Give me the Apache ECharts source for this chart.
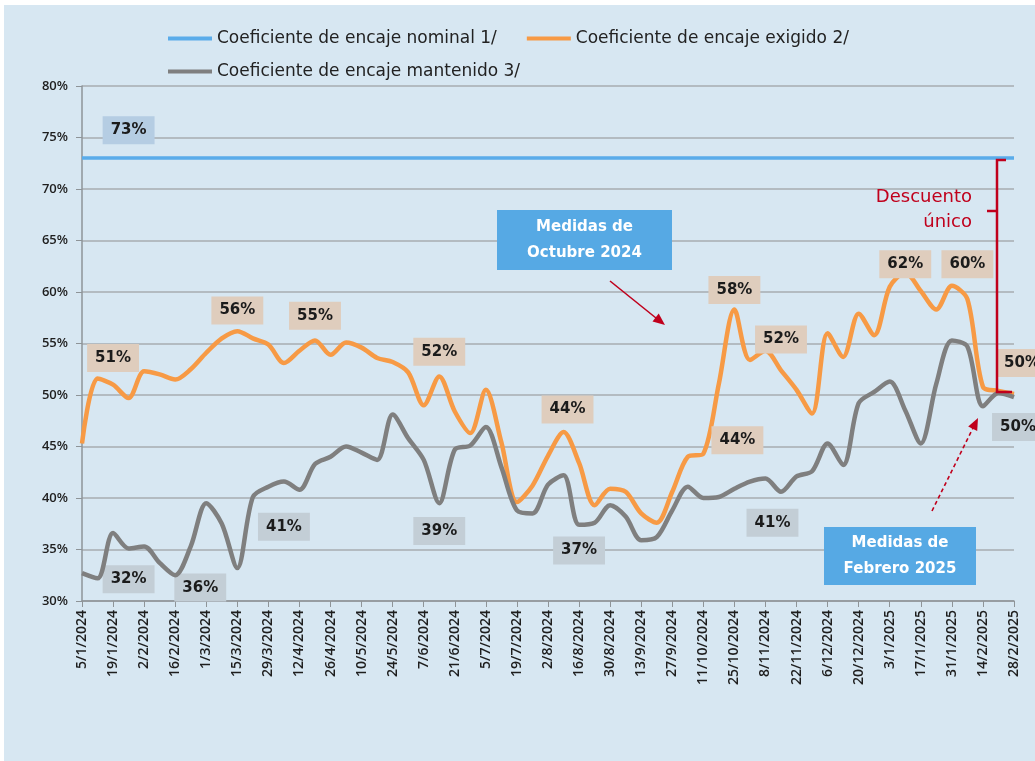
<!DOCTYPE html>
<html>
<head>
<meta charset="utf-8">
<script src="https://cdn.jsdelivr.net/npm/echarts@6/dist/echarts.min.js"></script>
<style>
  html, body { margin: 0; padding: 0; background: #ffffff; }
  #chart { width: 1035px; height: 761px; }
</style>
</head>
<body>
<div id="chart"></div>
<script>
// semanas (viernes) 5/1/2024 - 28/2/2025
var fechas = [
  '5/1/2024','12/1/2024','19/1/2024','26/1/2024','2/2/2024','9/2/2024','16/2/2024','23/2/2024',
  '1/3/2024','8/3/2024','15/3/2024','22/3/2024','29/3/2024','5/4/2024','12/4/2024','19/4/2024',
  '26/4/2024','3/5/2024','10/5/2024','17/5/2024','24/5/2024','31/5/2024','7/6/2024','14/6/2024',
  '21/6/2024','28/6/2024','5/7/2024','12/7/2024','19/7/2024','26/7/2024','2/8/2024','9/8/2024',
  '16/8/2024','23/8/2024','30/8/2024','6/9/2024','13/9/2024','20/9/2024','27/9/2024','4/10/2024',
  '11/10/2024','18/10/2024','25/10/2024','1/11/2024','8/11/2024','15/11/2024','22/11/2024','29/11/2024',
  '6/12/2024','13/12/2024','20/12/2024','27/12/2024','3/1/2025','10/1/2025','17/1/2025','24/1/2025',
  '31/1/2025','7/2/2025','14/2/2025','21/2/2025','28/2/2025'
];

var nominal = [
  73,73,73,73,73,73,73,73,73,73,73,73,73,73,73,73,73,73,73,73,
  73,73,73,73,73,73,73,73,73,73,73,73,73,73,73,73,73,73,73,73,
  73,73,73,73,73,73,73,73,73,73,73,73,73,73,73,73,73,73,73,73,73
];

var exigido = [
  45.3,51.6,51.0,49.7,52.3,52.0,51.5,52.5,54.1,55.5,
  56.2,55.5,54.9,53.1,54.3,55.3,53.9,55.1,54.6,53.6,
  53.2,52.2,49.0,51.8,48.4,46.3,50.5,45.4,39.6,41.2,
  44.1,46.4,43.4,39.3,40.9,40.6,38.5,37.6,40.6,44.0,
  44.3,51.1,58.3,53.4,54.3,52.4,50.5,48.2,56.0,53.7,
  57.9,55.8,60.5,61.9,60.1,58.3,60.6,59.3,50.8,50.4,50.1
];

var mantenido = [
  32.7,32.2,36.6,35.1,35.3,33.7,32.5,35.3,39.5,37.5,
  33.2,40.1,41.1,41.6,40.8,43.3,44.0,45.0,44.4,43.7,
  48.1,45.8,43.7,39.5,44.7,45.1,46.9,43.0,38.8,38.5,
  41.3,42.2,37.4,37.6,39.3,38.2,35.9,36.2,38.8,41.1,
  40.0,40.1,40.9,41.6,41.9,40.6,42.1,42.6,45.3,43.2,
  49.2,50.3,51.3,48.5,45.3,51.1,55.3,54.7,48.9,50.2,49.8
];

// etiquetas: [indice semana, nivel %, texto]
var etiquetasNominal = [[3, 75.7, '73%']];
var etiquetasExigido = [
  [2, 53.6, '51%'], [10, 58.2, '56%'], [15, 57.7, '55%'], [23, 54.2, '52%'],
  [31, 48.6, '44%'], [42, 60.2, '58%'], [42, 45.6, '44%'], [45, 55.4, '52%'],
  [53, 62.7, '62%'], [57, 62.7, '60%'], [60, 53.1, '50%']
];
var etiquetasMantenido = [
  [3, 32.1, '32%'], [8, 31.3, '36%'], [13, 37.2, '41%'], [23, 36.8, '39%'],
  [32, 34.9, '37%'], [44, 37.6, '41%'], [60, 46.9, '50%']
];

var nombres = [
  'Coeficiente de encaje nominal 1/',
  'Coeficiente de encaje exigido 2/',
  'Coeficiente de encaje mantenido 3/'
];

var fuente = 'DejaVu Sans';

function marcas(lista, fondo, ajuste) {
  return {
    symbol: 'rect',
    symbolSize: 1,
    itemStyle: { color: 'rgba(0,0,0,0)' },
    silent: true,
    label: {
      show: true,
      position: 'inside',
      formatter: function (p) { return p.name; },
      backgroundColor: fondo,
      padding: [7, 8, 6, 8],
      color: '#1b1b1b',
      fontFamily: fuente,
      fontSize: 15,
      fontWeight: 'bold'
    },
    data: lista.map(function (e) {
      var d = { name: e[2], coord: [e[0], e[1]] };
      if (ajuste && ajuste[e[0] + '-' + e[2]]) d.label = { offset: ajuste[e[0] + '-' + e[2]] };
      return d;
    })
  };
}

var chart = echarts.init(document.getElementById('chart'));

var option = {
  backgroundColor: '#d7e7f2',
  animation: false,
  textStyle: { fontFamily: fuente },
  legend: [
    {
      data: [nombres[0], nombres[1]],
      left: 163, top: 25,
      itemWidth: 44, itemHeight: 4, itemGap: 30,
      icon: 'rect',
      textStyle: { fontSize: 17, color: '#222' }
    },
    {
      data: [nombres[2]],
      left: 163, top: 58,
      itemWidth: 44, itemHeight: 4,
      icon: 'rect',
      textStyle: { fontSize: 17, color: '#222' }
    }
  ],
  grid: { left: 82, right: 21, top: 86, bottom: 160, containLabel: false },
  xAxis: {
    type: 'category',
    data: fechas,
    boundaryGap: false,
    axisLine: { lineStyle: { color: '#8e9498', width: 1.5 } },
    axisTick: { show: true, interval: 1, length: 6, lineStyle: { color: '#8e9498' } },
    axisLabel: {
      interval: 1, rotate: 90, margin: 9,
      fontFamily: 'Open Sans', fontSize: 14, color: '#1e1e1e', fontWeight: 600
    },
    splitLine: { show: false }
  },
  yAxis: {
    type: 'value',
    min: 30, max: 80, interval: 5,
    axisLine: { show: true, lineStyle: { color: '#8e9498', width: 1.5 } },
    axisTick: { show: true, length: 6, lineStyle: { color: '#8e9498' } },
    axisLabel: { formatter: '{value}%', fontFamily: 'Open Sans', fontSize: 13, color: '#1e1e1e', margin: 14, fontWeight: 600 },
    splitLine: { lineStyle: { color: '#a7adb1', width: 1.5 } }
  },
  series: [
    {
      name: nombres[0], type: 'line', data: nominal,
      showSymbol: false, z: 3,
      lineStyle: { color: '#5aacea', width: 3.5 },
      itemStyle: { color: '#5aacea' },
      markPoint: marcas(etiquetasNominal, '#b5cde3')
    },
    {
      name: nombres[1], type: 'line', data: exigido,
      smooth: 0.3, showSymbol: false, z: 4,
      lineStyle: { color: '#f79a45', width: 4.5 },
      itemStyle: { color: '#f79a45' },
      markPoint: marcas(etiquetasExigido, '#dfcdbd', { '60-50%': [8, 0], '31-44%': [4, 0], '42-44%': [3, 0] })
    },
    {
      name: nombres[2], type: 'line', data: mantenido,
      smooth: 0.3, showSymbol: false, z: 5,
      lineStyle: { color: '#7f7f7f', width: 4.5 },
      itemStyle: { color: '#7f7f7f' },
      markPoint: marcas(etiquetasMantenido, '#c3ced6', { '8-36%': [-6, 0], '44-41%': [7, 0], '60-50%': [4, 0] })
    }
  ],
  graphic: [
    // bordes blancos
    { type: 'rect', shape: { x: 0, y: 0, width: 1035, height: 5 }, style: { fill: '#ffffff' }, z: 100 },
    { type: 'rect', shape: { x: 0, y: 0, width: 4, height: 761 }, style: { fill: '#ffffff' }, z: 100 },
    // Medidas de Octubre 2024
    { type: 'rect', shape: { x: 497, y: 210, width: 175, height: 60 }, style: { fill: '#56a9e4' }, z: 50 },
    { type: 'text', x: 584.5, y: 240, z: 51,
      style: { text: 'Medidas de\nOctubre 2024', fill: '#ffffff', font: 'bold 15px "DejaVu Sans"',
               align: 'center', verticalAlign: 'middle', lineHeight: 26 } },
    { type: 'line', shape: { x1: 610, y1: 281, x2: 656, y2: 318 }, style: { stroke: '#c0001c', lineWidth: 1.6 }, z: 50 },
    { type: 'polygon', shape: { points: [[665, 325], [652.5, 321.4], [658.7, 313.6]] }, style: { fill: '#c0001c' }, z: 50 },
    // Medidas de Febrero 2025
    { type: 'rect', shape: { x: 824, y: 527, width: 152, height: 58 }, style: { fill: '#56a9e4' }, z: 50 },
    { type: 'text', x: 900, y: 556, z: 51,
      style: { text: 'Medidas de\nFebrero 2025', fill: '#ffffff', font: 'bold 15px "DejaVu Sans"',
               align: 'center', verticalAlign: 'middle', lineHeight: 26 } },
    { type: 'line', shape: { x1: 932, y1: 511, x2: 973, y2: 428 }, style: { stroke: '#c0001c', lineWidth: 1.6, lineDash: [4, 3] }, z: 50 },
    { type: 'polygon', shape: { points: [[978, 418], [977.2, 431], [968.2, 426.5]] }, style: { fill: '#c0001c' }, z: 50 },
    // Descuento único
    { type: 'polyline', shape: { points: [[1006, 160], [997, 160], [997, 392], [1012, 392]] },
      style: { stroke: '#c0001c', lineWidth: 2.5, fill: null }, z: 50 },
    { type: 'line', shape: { x1: 987, y1: 211, x2: 997, y2: 211 }, style: { stroke: '#c0001c', lineWidth: 2.5 }, z: 50 },
    { type: 'text', x: 972, y: 210, z: 51,
      style: { text: 'Descuento\núnico', fill: '#c0001c', font: '18px "DejaVu Sans"',
               align: 'right', verticalAlign: 'middle', lineHeight: 25 } }
  ]
};

chart.setOption(option);
</script>
</body>
</html>
